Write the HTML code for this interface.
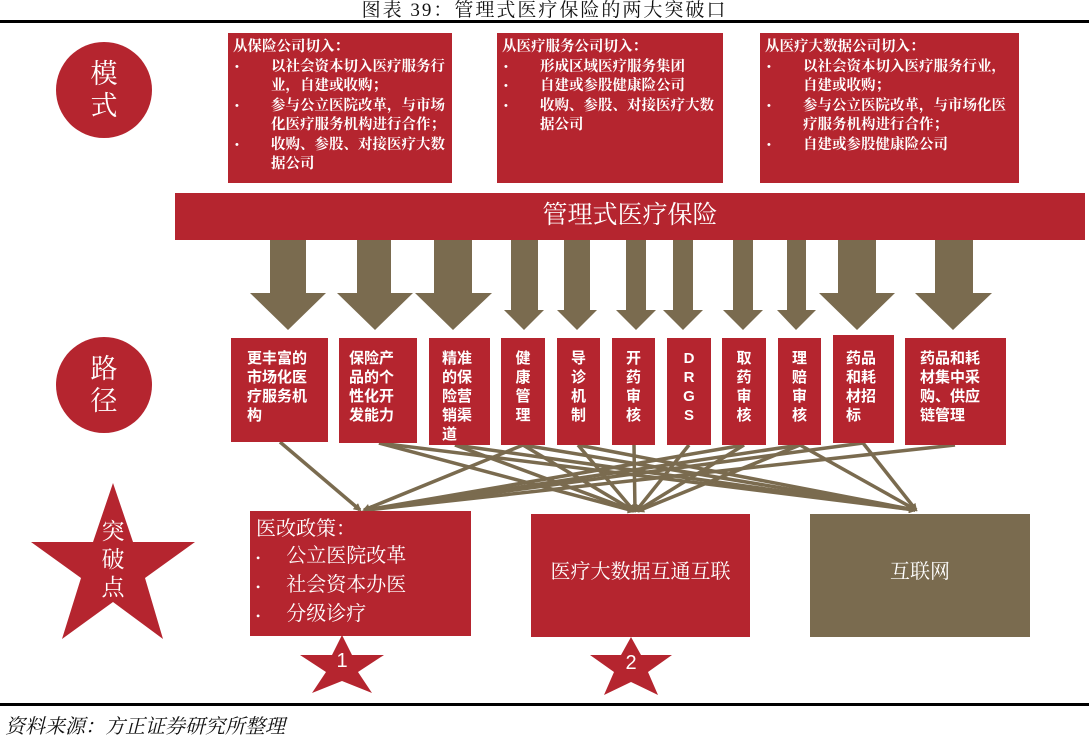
<!DOCTYPE html>
<html><head><meta charset="utf-8"><style>
body{margin:0;width:1089px;height:738px;background:#fff;position:relative;overflow:hidden;font-family:"Liberation Serif","Noto Serif CJK SC",serif;}
.a{position:absolute;}
.tb{position:absolute;background:#b5252f;color:#fff;font-family:"Liberation Serif","Noto Serif CJK SC",serif;font-weight:bold;font-size:14.5px;line-height:19.5px;box-sizing:border-box;padding:5px 4px 0 5px;white-space:nowrap;}
.tb .li{position:relative;padding-left:38px;}
.tb .li:before{content:"•";position:absolute;left:2px;top:0;font-size:11px;}
.pb{position:absolute;background:#b5252f;color:#fff;font-family:"Liberation Sans","Noto Sans CJK SC",sans-serif;font-weight:bold;font-size:15px;line-height:19px;box-sizing:border-box;padding-top:11px;text-align:center;white-space:nowrap;}
.pb.l{text-align:left;}
</style></head><body>
<div class="a" style="left:0;top:-5px;width:1089px;text-align:center;font-size:19px;letter-spacing:2px;color:#111;">图表 39：管理式医疗保险的两大突破口</div>
<div class="a" style="left:0;top:20px;width:1089px;height:3px;background:#000;"></div>

<svg class="a" style="left:0;top:0" width="1089" height="738">
<defs><marker id="m" markerWidth="8" markerHeight="8" refX="6" refY="4" orient="auto" markerUnits="userSpaceOnUse"><path d="M0,0 L8,4 L0,8 z" fill="#7a6b4f"/></marker></defs>
<circle cx="104" cy="90" r="48" fill="#b5252f"/>
<circle cx="104" cy="385" r="48" fill="#b5252f"/>
<rect x="175" y="193" width="910" height="47" fill="#b5252f"/>
<g fill="#7a6b4f">
<polygon points="270,240 306,240 306,293 326,293 288,330 250,293 270,293"/>
<polygon points="357,240 391,240 391,293 413,293 375,330 337,293 357,293"/>
<polygon points="434,240 472,240 472,293 492,293 453,330 415,293 434,293"/>
<polygon points="511,240 538,240 538,310 544,310 524,330 504,310 511,310"/>
<polygon points="564,240 590,240 590,310 597,310 577,330 557,310 564,310"/>
<polygon points="626,240 646,240 646,310 656,310 636,330 616,310 626,310"/>
<polygon points="673,240 693,240 693,310 703,310 683,330 663,310 673,310"/>
<polygon points="733,240 753,240 753,310 763,310 743,330 723,310 733,310"/>
<polygon points="787,240 806,240 806,310 816,310 796,330 777,310 787,310"/>
<polygon points="838,240 876,240 876,293 895,293 857,330 819,293 838,293"/>
<polygon points="935,240 973,240 973,293 992,293 953,330 915,293 935,293"/>
</g>
<g stroke="#7a6b4f" stroke-width="3.5" marker-end="url(#m)" fill="none">
<line x1="280" y1="442" x2="360" y2="510"/>
<line x1="379" y1="443" x2="634" y2="511"/>
<line x1="379" y1="443" x2="915" y2="510"/>
<line x1="455" y1="445" x2="634" y2="511"/>
<line x1="455" y1="445" x2="915" y2="510"/>
<line x1="523" y1="445" x2="364" y2="510"/>
<line x1="523" y1="445" x2="634" y2="511"/>
<line x1="523" y1="445" x2="915" y2="510"/>
<line x1="578" y1="445" x2="634" y2="511"/>
<line x1="578" y1="445" x2="915" y2="510"/>
<line x1="634" y1="445" x2="635" y2="511"/>
<line x1="689" y1="445" x2="636" y2="511"/>
<line x1="744" y1="445" x2="366" y2="510"/>
<line x1="744" y1="445" x2="637" y2="511"/>
<line x1="800" y1="445" x2="366" y2="510"/>
<line x1="800" y1="445" x2="638" y2="511"/>
<line x1="800" y1="445" x2="916" y2="510"/>
<line x1="863" y1="443" x2="366" y2="510"/>
<line x1="863" y1="443" x2="916" y2="510"/>
<line x1="955" y1="445" x2="367" y2="510"/>
</g>
<rect x="250" y="511" width="221" height="125" fill="#b5252f"/>
<rect x="531" y="514" width="219" height="123" fill="#b5252f"/>
<rect x="810" y="514" width="220" height="123" fill="#7a6b4f"/>
<polygon points="113,483 133,542 195,542 145,578 163,639 113,602 62,639 81,578 31,542 93,542" fill="#b5252f"/>
<polygon points="342,635 352,655 384,655 358,672 372,693 342,681 312,693 326,672 300,655 332,655" fill="#b5252f"/>
<polygon points="631,637 641,655 672,655 648,672 658,695 631,682 604,695 614,672 590,655 621,655" fill="#b5252f"/>
</svg>

<div class="a" style="left:80px;top:58px;width:48px;text-align:center;color:#fff;font-size:27px;line-height:32px;">模<br>式</div>
<div class="a" style="left:80px;top:353px;width:48px;text-align:center;color:#fff;font-size:27px;line-height:32px;">路<br>径</div>
<div class="a" style="left:90px;top:518px;width:46px;text-align:center;color:#fff;font-size:23px;line-height:28px;">突<br>破<br>点</div>
<div class="a" style="left:175px;top:199px;width:910px;text-align:center;color:#fff;font-size:25px;line-height:34px;">管理式医疗保险</div>

<div class="tb" style="left:228px;top:33px;width:224px;height:150px;">从保险公司切入：<div class="li">以社会资本切入医疗服务行<br>业，自建或收购；</div><div class="li">参与公立医院改革，与市场<br>化医疗服务机构进行合作；</div><div class="li">收购、参股、对接医疗大数<br>据公司</div></div>
<div class="tb" style="left:497px;top:33px;width:226px;height:150px;">从医疗服务公司切入：<div class="li">形成区域医疗服务集团</div><div class="li">自建或参股健康险公司</div><div class="li">收购、参股、对接医疗大数<br>据公司</div></div>
<div class="tb" style="left:760px;top:33px;width:259px;height:150px;">从医疗大数据公司切入：<div class="li">以社会资本切入医疗服务行业，<br>自建或收购；</div><div class="li">参与公立医院改革，与市场化医<br>疗服务机构进行合作；</div><div class="li">自建或参股健康险公司</div></div>

<div class="pb l" style="left:231px;top:338px;width:97px;height:104px;padding-left:16px;">更丰富的<br>市场化医<br>疗服务机<br>构</div>
<div class="pb l" style="left:339px;top:338px;width:78px;height:105px;padding-left:10px;">保险产<br>品的个<br>性化开<br>发能力</div>
<div class="pb l" style="left:429px;top:338px;width:61px;height:107px;padding-left:13px;">精准<br>的保<br>险营<br>销渠<br>道</div>
<div class="pb" style="left:501px;top:338px;width:44px;height:107px;">健<br>康<br>管<br>理</div>
<div class="pb" style="left:557px;top:338px;width:43px;height:107px;">导<br>诊<br>机<br>制</div>
<div class="pb" style="left:612px;top:338px;width:43px;height:107px;">开<br>药<br>审<br>核</div>
<div class="pb" style="left:667px;top:338px;width:44px;height:107px;">D<br>R<br>G<br>S</div>
<div class="pb" style="left:722px;top:338px;width:44px;height:107px;">取<br>药<br>审<br>核</div>
<div class="pb" style="left:778px;top:338px;width:43px;height:107px;">理<br>赔<br>审<br>核</div>
<div class="pb l" style="left:833px;top:335px;width:61px;height:108px;padding-left:13px;padding-top:14px;">药品<br>和耗<br>材招<br>标</div>
<div class="pb l" style="left:905px;top:338px;width:101px;height:107px;padding-left:15px;">药品和耗<br>材集中采<br>购、供应<br>链管理</div>

<div class="a" style="left:256px;top:516px;color:#fff;font-size:20px;line-height:27px;">医改政策：<br><span style="font-size:12px;">•</span><span style="padding-left:26px;">公立医院改革</span><br><span style="font-size:12px;">•</span><span style="padding-left:26px;">社会资本办医</span><br><span style="font-size:12px;">•</span><span style="padding-left:26px;">分级诊疗</span></div>
<div class="a" style="left:531px;top:555px;width:219px;text-align:center;color:#fff;font-size:20px;">医疗大数据互通互联</div>
<div class="a" style="left:810px;top:555px;width:220px;text-align:center;color:#fff;font-size:20px;">互联网</div>
<div class="a" style="left:322px;top:650px;width:40px;text-align:center;color:#fff;font-family:'Liberation Sans',sans-serif;font-size:20px;">1</div>
<div class="a" style="left:611px;top:652px;width:40px;text-align:center;color:#fff;font-family:'Liberation Sans',sans-serif;font-size:20px;">2</div>

<div class="a" style="left:0;top:703px;width:1089px;height:3px;background:#000;"></div>
<div class="a" style="left:5px;top:710px;font-size:20px;font-style:italic;color:#111;">资料来源：方正证券研究所整理</div>
</body></html>
